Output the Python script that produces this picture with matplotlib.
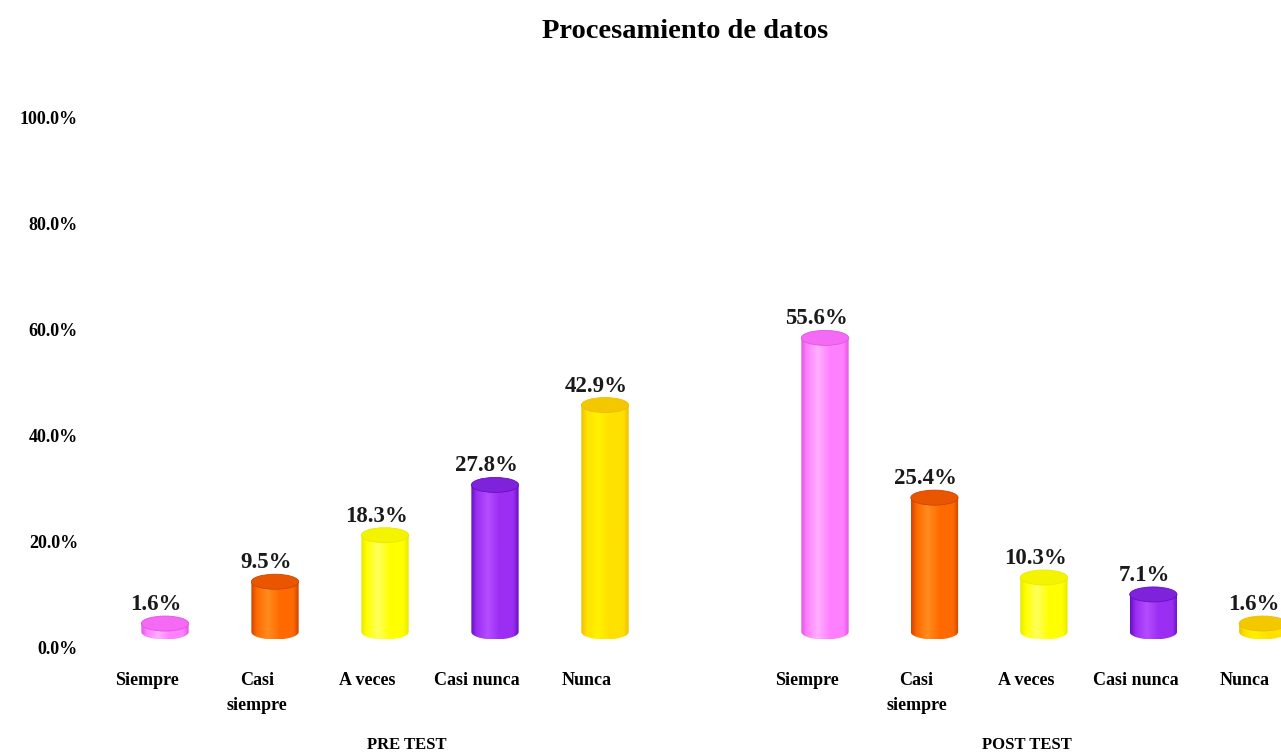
import numpy as np
import matplotlib
matplotlib.use("Agg")
import matplotlib.pyplot as plt
from matplotlib.patches import Ellipse, PathPatch
from matplotlib.path import Path
from matplotlib.colors import LinearSegmentedColormap

# ---- data ----
title = "Procesamiento de datos"
groups = ["PRE TEST", "POST TEST"]
categories = ["Siempre", "Casi\nsiempre", "A veces", "Casi nunca", "Nunca"]
pre_values = [1.6, 9.5, 18.3, 27.8, 42.9]
post_values = [55.6, 25.4, 10.3, 7.1, 1.6]
y_ticks = [0, 20, 40, 60, 80, 100]
y_tick_labels = ["0.0%", "20.0%", "40.0%", "60.0%", "80.0%", "100.0%"]

# ---- styles ----
# (edge, light, mid, top)
palette = [
    ("#E255E2", "#FFB0FF", "#FF80FF", "#F46AF4"),   # pink
    ("#CC4400", "#FF8C1F", "#FF6A00", "#EA5600"),   # orange
    ("#E8E800", "#FFFF60", "#FFFF00", "#F4F400"),   # yellow
    ("#6510C0", "#B44DFF", "#9B2EF2", "#7F22DC"),   # purple
    ("#EDBE00", "#FFF200", "#FFE100", "#F4C800"),   # gold
]

W, H, DPI = 1281, 756, 100
fig = plt.figure(figsize=(W / DPI, H / DPI), dpi=DPI)
fig.patch.set_facecolor("white")

unit_px = 110.0
first_px = 147.0
ax_left_px = first_px - 0.5 * unit_px
xmax = 11.2
ax_w_px = (xmax + 0.5) * unit_px
y0_px, y100_px = 109.0, 638.0
ax = fig.add_axes([ax_left_px / W, y0_px / H, ax_w_px / W, (y100_px - y0_px) / H])
ax.set_xlim(-0.5, xmax)
ax.set_ylim(0, 100)
for s in ax.spines.values():
    s.set_visible(False)

font = "Liberation Serif"

ax.set_yticks(y_ticks)
ax.set_yticklabels(y_tick_labels, fontfamily=font, fontweight="bold", fontsize=13)
ax.tick_params(axis="y", length=0, pad=10)

post_start = 6.0
post_step = 0.995
xs = list(range(len(categories))) + [post_start + i * post_step for i in range(len(categories))]
vals = pre_values + post_values
labels = categories + categories
ax.set_xticks(xs)
ax.set_xticklabels(labels, fontfamily=font, fontweight="bold", fontsize=13, linespacing=1.6, va="top")
ax.tick_params(axis="x", length=0, pad=18)

px_per_unit_y = (y100_px - y0_px) / 100.0
floor = 15 / px_per_unit_y
eh = 15 / px_per_unit_y
bw = 0.43
depth_shift = 18 / unit_px

for i, (x, v) in enumerate(zip(xs, vals)):
    cx = x + depth_shift
    edge, light, mid, top = palette[i % 5]
    cmap = LinearSegmentedColormap.from_list(
        "c%d" % i, [(0, edge), (0.12, mid), (0.35, light), (0.6, mid), (0.88, mid), (1, edge)])
    yb = floor
    yt = floor + v
    xl, xr = cx - bw / 2, cx + bw / 2
    t = np.linspace(np.pi, 2 * np.pi, 40)
    arc = np.column_stack([cx + bw / 2 * np.cos(t), yb + eh / 2 * np.sin(t)])
    verts = np.vstack([[[xl, yt]], arc, [[xr, yt]], [[xl, yt]]])
    codes = [Path.MOVETO] + [Path.LINETO] * (len(verts) - 2) + [Path.CLOSEPOLY]
    path = Path(verts, codes)
    patch = PathPatch(path, facecolor="none", edgecolor="none")
    ax.add_patch(patch)
    grad = np.linspace(0, 1, 256).reshape(1, -1)
    im = ax.imshow(grad, cmap=cmap, aspect="auto", extent=[xl, xr, yb - eh / 2, yt],
                   origin="lower", zorder=2, interpolation="bilinear")
    im.set_clip_path(patch)
    ax.add_patch(Ellipse((cx, yt), bw, eh, facecolor=top, edgecolor=edge, lw=0.6, zorder=3))
    ax.text(cx - 0.08, yt + eh / 2 + 0.2, "%.1f%%" % v, ha="center", va="bottom",
            fontfamily=font, fontweight="bold", fontsize=16.5, color="#1a1a1a", zorder=4)

ax.set_xlim(-0.5, xmax)
ax.set_ylim(0, 100)

fig.text(685 / W, 1 - 32 / H, title, ha="center", va="center",
         fontfamily=font, fontweight="bold", fontsize=20.5)
fig.text(407 / W, 1 - 745 / H, groups[0], ha="center", va="center",
         fontfamily=font, fontweight="bold", fontsize=12)
fig.text(1027 / W, 1 - 745 / H, groups[1], ha="center", va="center",
         fontfamily=font, fontweight="bold", fontsize=12)

fig.savefig("out.png", dpi=DPI, facecolor="white")
